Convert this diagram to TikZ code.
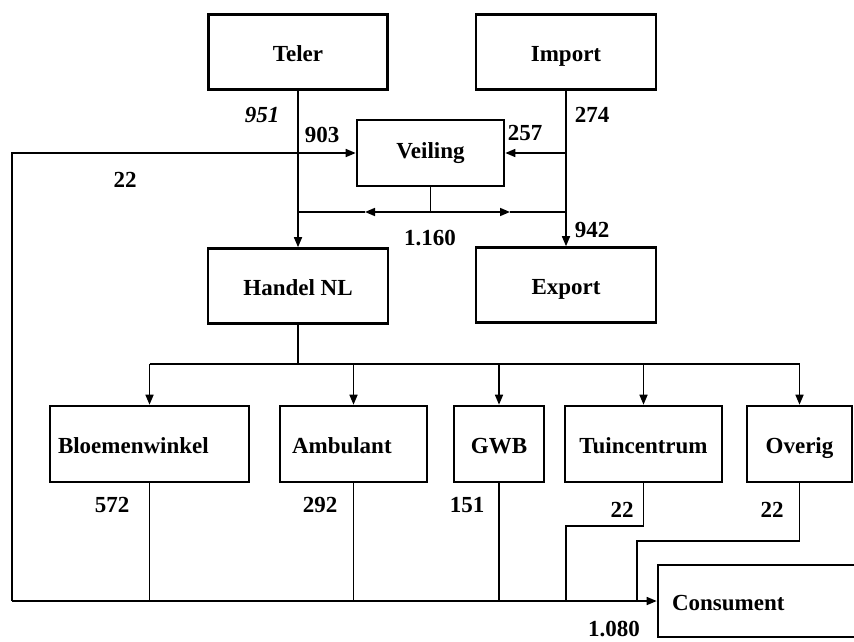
\documentclass[tikz,border=0pt]{standalone}
\usepackage{fontspec}
\setmainfont{Liberation Serif}
\usetikzlibrary{arrows.meta}
\tikzset{
  box/.style={draw, line width=2.6pt, minimum height=75pt, inner sep=0pt,
    text height=20pt, text depth=1pt,
    font=\fontsize{23}{27}\selectfont\bfseries},
  lbl/.style={inner sep=0pt, font=\fontsize{23}{27}\selectfont\bfseries},
  flow/.style={line width=1.6pt},
  tip/.style={flow, -{Triangle[length=10pt,width=8pt]}}
}
\begin{document}
\begin{tikzpicture}[x=1pt,y=-1pt]
      \useasboundingbox (0,0) rectangle (854,642);
      % top
      \node[box, minimum width=179pt] (teler) at (298,52) {Teler};
      \node[box, minimum width=180pt] (import) at (566,52) {Import};
      \node[box, minimum width=147pt, minimum height=66pt, text height=16pt, text depth=5pt] (veiling) at (430.5,153) {Veiling};
      \node[box, minimum width=180pt] (handel) at (298,286) {Handel NL};
      \node[box, minimum width=180pt] (export) at (566,285) {Export};
      % retail
      \node[box, minimum width=199pt, minimum height=76pt, text width=183pt, align=left] (bloem) at (149.5,444) {Bloemenwinkel};
      \node[box, minimum width=147pt, minimum height=76pt, text width=123pt, align=left] (ambu) at (353.5,444) {Ambulant};
      \node[box, minimum width=90pt, minimum height=76pt] (gwb) at (499,444) {GWB};
      \node[box, minimum width=157pt, minimum height=76pt] (tuin) at (643.5,444) {Tuincentrum};
      \node[box, minimum width=105pt, minimum height=76pt] (overig) at (799.5,444) {Overig};
      \node[box, minimum width=212pt, minimum height=72pt, text width=184pt, align=left] (cons) at (764,601) {Consument};

      \coordinate (tl) at (12,153);
      \coordinate (bl) at (12,601);
      \coordinate (vbar) at (430.5,212);
      \coordinate (vtipL) at (365,212);
      \coordinate (vtipR) at (510,212);
      \coordinate (bus) at (298,364);
      \coordinate (tuinbend) at (566,526);
      \coordinate (ovbend) at (637,541);

      % veiling block
      \draw[tip] (teler.south) -- (handel.north);
      \draw[tip] (import.south) -- (export.north);
      \draw[tip] (import.south |- veiling.east) -- (veiling.east);
      \draw[flow] (veiling.south) -- (vbar);
      \draw[tip] (vbar) -- (vtipL);
      \draw[tip] (vbar) -- (vtipR);
      \draw[flow] (vtipL) -- (teler.south |- vbar);
      \draw[flow] (vtipR) -- (import.south |- vbar);

      % distribution
      \draw[flow] (handel.south) -- (bus);
      \draw[flow] (bloem.north |- bus) -- (overig.north |- bus);
      \draw[tip] (bloem.north |- bus) -- (bloem.north);
      \draw[tip] (ambu.north |- bus) -- (ambu.north);
      \draw[tip] (gwb.north |- bus) -- (gwb.north);
      \draw[tip] (tuin.north |- bus) -- (tuin.north);
      \draw[tip] (overig.north |- bus) -- (overig.north);

      % to consument
      \draw[tip] (bl) -- (tl) -- (veiling.west);
      \draw[tip] (bl) -- (cons.west);
      \draw[flow] (bloem.south) -- (bloem.south |- bl);
      \draw[flow] (ambu.south) -- (ambu.south |- bl);
      \draw[flow] (gwb.south) -- (gwb.south |- bl);
      \draw[flow] (tuin.south) |- (tuinbend) -- (tuinbend |- bl);
      \draw[flow] (overig.south) |- (ovbend) -- (ovbend |- bl);

      % numbers
      \node[lbl, font=\fontsize{23}{27}\selectfont\bfseries\itshape] (n951) at (262,115) {951};
      \node[lbl] (n903) at (322,135) {903};
      \node[lbl] (n22a) at (125,180) {22};
      \node[lbl] (n257) at (525,133) {257};
      \node[lbl] (n274) at (592,115) {274};
      \node[lbl] (n1160) at (430,238) {1.160};
      \node[lbl] (n942) at (592,230) {942};
      \node[lbl] (n572) at (112,505) {572};
      \node[lbl] (n292) at (320,505) {292};
      \node[lbl] (n151) at (467,505) {151};
      \node[lbl] (n22b) at (622,510) {22};
      \node[lbl] (n22c) at (772,510) {22};
      \node[lbl] (n1080) at (614,629) {1.080};
    \end{tikzpicture}
\end{document}
